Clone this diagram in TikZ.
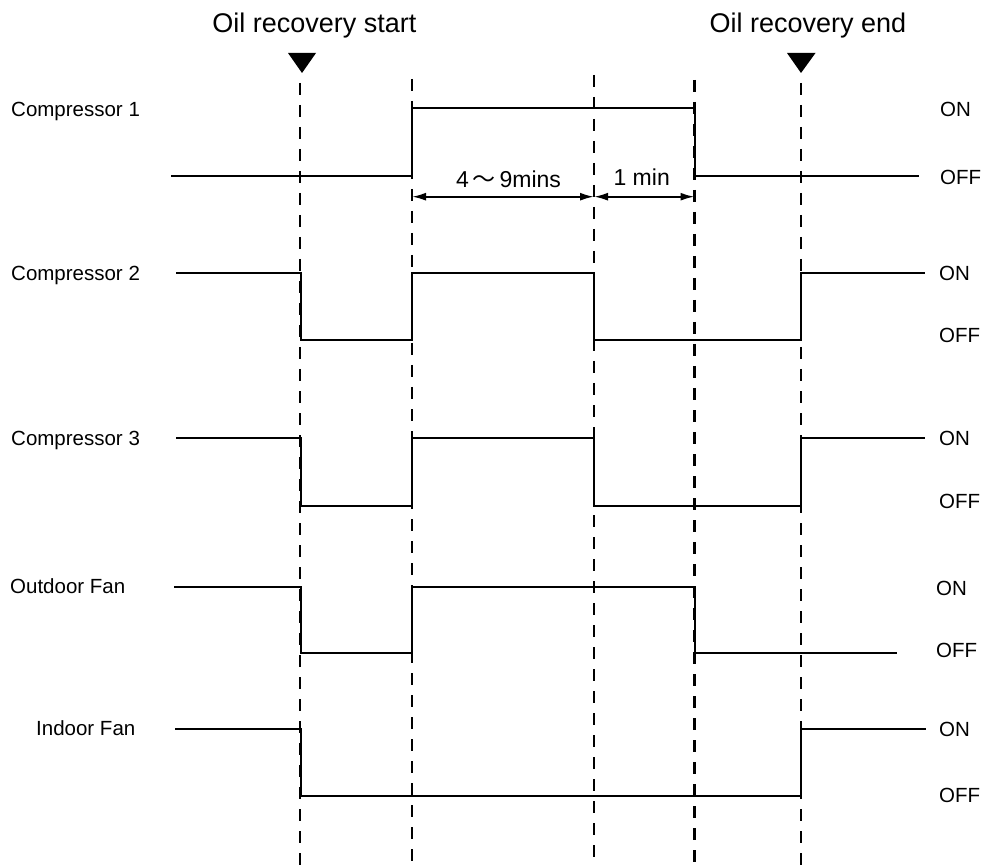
\documentclass[tikz,border=0pt]{standalone}
\usepackage{fontspec}
\setmainfont{Liberation Sans}
\newfontfamily\cjk{Noto Sans CJK SC}
\usetikzlibrary{arrows.meta}

\begin{document}
\begin{tikzpicture}[x=1pt, y=-1pt,
    signal/.style={line width=2.8pt, line join=miter},
    guide/.style={line width=2.2pt, dash pattern=on 12pt off 10pt},
    span/.style={{Latex[length=14pt,width=8pt]}-{Latex[length=14pt,width=8pt]}, line width=2pt},
    evtitle/.style={font=\fontsize{27}{32}\selectfont, inner sep=0pt, anchor=base},
    rowlabel/.style={font=\fontsize{20.5}{24}\selectfont, inner sep=0pt, anchor=base west},
    lvl/.style={font=\fontsize{20.5}{24}\selectfont, inner sep=0pt, anchor=base west},
    dur/.style={font=\fontsize{23}{27}\selectfont, inner sep=0pt, anchor=base},
    marker/.style={fill=black}
  ]
    \useasboundingbox (0,0) rectangle (985,866);

    % event titles and markers
    \node[evtitle] (tstart) at (314.5,32.7) {Oil recovery start};
    \node[evtitle] (tend)   at (808,32.7)   {Oil recovery end};
    \fill[marker] (288,53) -- (316,53) -- (302,73) -- cycle;
    \fill[marker] (787,53) -- (815.5,53) -- (801,73) -- cycle;

    % time guides
    \foreach \x/\y in {300/83, 412/79, 594/75, 694.5/80, 801/83}
      \draw[guide] (\x,\y) -- (\x,866);

    % row names
    \node[rowlabel] (c1) at (11,116.6) {Compressor 1};
    \node[rowlabel] (c2) at (11,280.3) {Compressor 2};
    \node[rowlabel] (c3) at (11,445.3) {Compressor 3};
    \node[rowlabel] (of) at (10,593.3) {Outdoor Fan};
    \node[rowlabel] (inf) at (36,735)  {Indoor Fan};

    % levels
    \node[lvl] (c1on)  at (940,116.3) {ON};
    \node[lvl] (c1off) at (940,184.3) {OFF};
    \node[lvl] (c2on)  at (939,280.3) {ON};
    \node[lvl] (c2off) at (939,342.3) {OFF};
    \node[lvl] (c3on)  at (939,445.3) {ON};
    \node[lvl] (c3off) at (939,508.3) {OFF};
    \node[lvl] (ofon)  at (936,595.3) {ON};
    \node[lvl] (ofoff) at (936,657.3) {OFF};
    \node[lvl] (inon)  at (939,736.3) {ON};
    \node[lvl] (inoff) at (939,802.3) {OFF};

    % signals
    \draw[signal] (171,176) -- (412,176) -- (412,108) -- (695,108) -- (695,176) -- (919,176);
    \draw[signal] (176,273) -- (301,273) -- (301,340) -- (412,340) -- (412,273) -- (594,273)
      -- (594,340) -- (801,340) -- (801,273) -- (925,273);
    \draw[signal] (176,438) -- (301,438) -- (301,506) -- (412,506) -- (412,438) -- (594,438)
      -- (594,506) -- (801,506) -- (801,438) -- (925,438);
    \draw[signal] (174,587) -- (301,587) -- (301,653) -- (412,653) -- (412,587) -- (695,587)
      -- (695,653) -- (897,653);
    \draw[signal] (175,729) -- (301,729) -- (301,796) -- (801,796) -- (801,729) -- (926,729);

    % durations
    \coordinate (s1) at (412,196.7);
    \coordinate (s2) at (594,196.7);
    \coordinate (s3) at (694.5,196.7);
    \draw[span] (s1) -- (s2);
    \draw[span] (s2) -- (s3);
    \node[dur] (d1) at (508.5,187.3) {4\,{\cjk ～}\,9mins};
    \node[dur] (d2) at (641.7,185.5) {1 min};
  \end{tikzpicture}
\end{document}
